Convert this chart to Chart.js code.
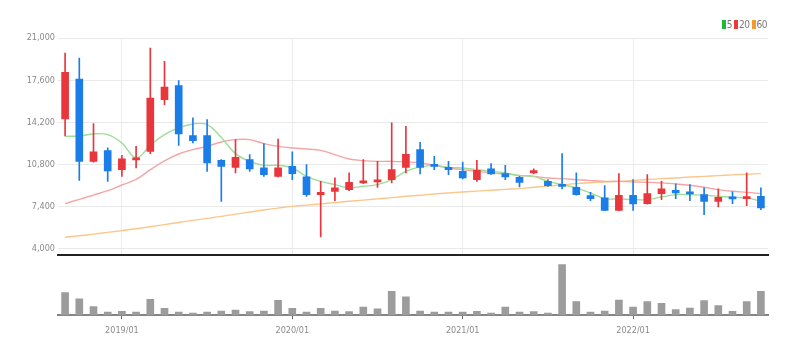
<!DOCTYPE html>
<html>
<head>
<meta charset="utf-8">
<script src="https://cdn.jsdelivr.net/npm/chart.js@4.4.1/dist/chart.umd.min.js"></script>
<style>
  html, body { margin: 0; padding: 0; background: #fff; }
  #wrap { position: relative; width: 803px; height: 355px; }
  #price-box { position: absolute; left: 0; top: 0; width: 803px; height: 263px; }
  #volume-box { position: absolute; left: 0; top: 256px; width: 803px; height: 99px; }
  #legend {
    position: absolute; right: 36px; top: 19px;
    font: 10px 'Liberation Sans Narrow', 'DejaVu Sans Condensed', Roboto, sans-serif;
    color: #777; line-height: 11px; white-space: nowrap; letter-spacing: -0.5px;
  }
  #legend span.item { margin-left: 2px; }
  #legend i { display: inline-block; width: 4px; height: 9px; margin-right: 1px; vertical-align: -1px; }
</style>
</head>
<body>
<div id="wrap">
  <div id="price-box"><canvas id="price-chart"></canvas></div>
  <div id="volume-box"><canvas id="volume-chart"></canvas></div>
  <div id="legend"></div>
</div>
<script>
// Monthly candles, 2018/09 - 2022/10
const months = [
  '2018/09', '2018/10', '2018/11', '2018/12',
  '2019/01', '2019/02', '2019/03', '2019/04', '2019/05', '2019/06',
  '2019/07', '2019/08', '2019/09', '2019/10', '2019/11', '2019/12',
  '2020/01', '2020/02', '2020/03', '2020/04', '2020/05', '2020/06',
  '2020/07', '2020/08', '2020/09', '2020/10', '2020/11', '2020/12',
  '2021/01', '2021/02', '2021/03', '2021/04', '2021/05', '2021/06',
  '2021/07', '2021/08', '2021/09', '2021/10', '2021/11', '2021/12',
  '2022/01', '2022/02', '2022/03', '2022/04', '2022/05', '2022/06',
  '2022/07', '2022/08', '2022/09', '2022/10'
];

const opens = [
  14474, 17697, 11058, 11920, 10389, 11170, 11864, 16029, 17157, 13128,
  13128, 11138, 10575, 11195, 10526, 9849, 10655, 9801, 8375, 8641,
  8777, 9318, 9398, 9583, 10575, 12000, 10792, 10575, 10252, 9583,
  10446, 10067, 9769, 10124, 9446, 9180, 8964, 8294, 8109, 7110,
  8319, 7648, 8455, 8721, 8592, 8375, 7835, 8190, 8052, 8238
];
const highs = [
  19791, 19389, 14095, 12137, 11541, 12266, 20194, 19115, 17560, 14555,
  14417, 11195, 12806, 11598, 12484, 12862, 11815, 10792, 9446, 9720,
  10124, 11195, 11058, 14152, 13878, 12589, 11461, 11058, 11008, 11138,
  10872, 10735, 9850, 10450, 9583, 11678, 10124, 8560, 9100, 10067,
  9583, 9986, 9446, 9237, 9180, 8915, 8834, 8592, 10124, 8915
];
const lows = [
  13100, 9527, 11000, 9446, 9849, 10526, 11678, 15626, 12347, 12540,
  10252, 7835, 10124, 10252, 9849, 9800, 9583, 8238, 4967, 7891,
  8700, 9250, 8964, 9318, 10124, 10043, 10389, 9986, 9650, 9446,
  10000, 9583, 9000, 10050, 9044, 8834, 8330, 7891, 7080, 7080,
  7110, 7600, 7972, 8052, 7891, 6763, 7384, 7648, 7489, 7166
];
const closes = [
  18229, 11058, 11815, 10284, 11251, 11300, 16166, 17052, 13265, 12725,
  10929, 10655, 11380, 10446, 9986, 10526, 10067, 8375, 8560, 8915,
  9366, 9446, 9527, 10389, 11622, 10575, 10655, 10389, 9720, 10333,
  10043, 9801, 9366, 10309, 9100, 9044, 8375, 8052, 7110, 8319,
  7625, 8455, 8834, 8512, 8431, 7835, 8158, 8028, 8130, 7303
];

// Moving averages
const ma5 = [
  13072, 13100, 13265, 13209, 12540, 11332, 12350, 13209, 13749, 14072,
  14015, 12975, 11678, 11058, 10735, 10735, 10526, 9849, 9446, 9180,
  8915, 9044, 9180, 9583, 10252, 10607, 10735, 10575, 10526, 10389,
  10252, 10124, 9906, 9849, 9446, 9180, 8915, 8512, 8052, 8028,
  7972, 7972, 8190, 8375, 8375, 8319, 8238, 8158, 8109, 7835
];
const ma20 = [
  7648, 7990, 8340, 8690, 9150, 9600, 10389, 11100, 11650, 12000,
  12266, 12621, 12806, 12806, 12484, 12266, 12137, 12057, 11944, 11598,
  11251, 11114, 11058, 11058, 11008, 10929, 10735, 10526, 10389, 10252,
  10124, 10043, 9930, 9849, 9720, 9664, 9583, 9503, 9446, 9446,
  9398, 9366, 9318, 9237, 9125, 8964, 8777, 8641, 8560, 8455
];
const ma60 = [
  4935, 5060, 5190, 5330, 5474, 5620, 5790, 5960, 6130, 6300,
  6460, 6620, 6800, 6970, 7140, 7290, 7430, 7530, 7630, 7730,
  7835, 7930, 8030, 8130, 8238, 8330, 8420, 8510, 8592, 8660,
  8730, 8800, 8858, 8964, 9060, 9160, 9262, 9330, 9390, 9446,
  9520, 9590, 9664, 9720, 9790, 9849, 9910, 9970, 10020, 10067
];

const volumes = [
  2330, 1700, 900, 330, 400, 330, 1630, 700, 330, 230,
  330, 430, 530, 370, 430, 1530, 700, 330, 700, 430,
  370, 830, 670, 2470, 1900, 430, 330, 330, 330, 400,
  230, 830, 330, 370, 230, 5230, 1400, 330, 430, 1570,
  830, 1400, 1230, 570, 730, 1500, 1000, 400, 1400, 2470
];

const priceTicks = [4000, 7400, 10800, 14200, 17600, 21000];
const maNames = ['5', '20', '60'];

const UP = '#e8363c';
const DOWN = '#1b7de8';
const candleColors = opens.map((o, i) => closes[i] >= o ? UP : DOWN);
const lineColors = ['#9edd98', '#f5a5a5', '#fbc68e'];
const legendColors = ['#1fb83a', '#ea3a3a', '#f59a30'];

Chart.defaults.font.family = "'Liberation Sans Narrow', 'DejaVu Sans Condensed', Roboto, sans-serif";
Chart.defaults.font.size = 9;
Chart.defaults.color = '#8a8a8a';
Chart.defaults.animation = false;

const isYear = (i) => months[i] && months[i].endsWith('/01');

// Price chart (candles + moving averages)
const priceChart = new Chart(document.getElementById('price-chart'), {
  type: 'bar',
  data: {
    labels: months,
    datasets: [
      { type: 'line', label: maNames[0], data: ma5, borderColor: lineColors[0], borderWidth: 1.4, pointRadius: 0, tension: 0.4, order: 3 },
      { type: 'line', label: maNames[1], data: ma20, borderColor: lineColors[1], borderWidth: 1.4, pointRadius: 0, tension: 0.4, order: 3 },
      { type: 'line', label: maNames[2], data: ma60, borderColor: lineColors[2], borderWidth: 1.4, pointRadius: 0, tension: 0.4, order: 3 },
      {
        label: 'wick',
        data: months.map((m, i) => [lows[i], highs[i]]),
        backgroundColor: candleColors,
        barThickness: 1,
        grouped: false,
        order: 2
      },
      {
        label: 'body',
        data: months.map((m, i) => [opens[i], closes[i]]),
        backgroundColor: candleColors,
        barThickness: 7,
        minBarLength: 2,
        grouped: false,
        order: 1
      }
    ]
  },
  options: {
    responsive: true,
    maintainAspectRatio: false,
    layout: { padding: { left: 0, right: 35, top: 38, bottom: 0 } },
    plugins: {
      tooltip: { enabled: false },
      legend: { display: false }
    },
    scales: {
      x: {
        offset: true,
        ticks: { display: false },
        grid: {
          offset: false,
          drawTicks: false,
          color: (ctx) => isYear(ctx.index) ? '#ececec' : 'rgba(0,0,0,0)'
        },
        border: { color: '#222', width: 2 }
      },
      y: {
        min: 3540,
        max: 21000,
        afterBuildTicks: (scale) => { scale.ticks = priceTicks.map(v => ({ value: v })); },
        afterFit: (scale) => { scale.width = 58; },
        ticks: {
          padding: 3,
          callback: (v) => v.toLocaleString('en-US')
        },
        grid: { color: '#e9e9e9', drawTicks: false },
        border: { display: false }
      }
    }
  }
});

// Legend for the moving averages
document.getElementById('legend').innerHTML = priceChart.data.datasets.slice(0, 3)
  .map((ds, i) => `<span class="item"><i style="background:${legendColors[i]}"></i>${ds.label}</span>`)
  .join('');

// Volume chart
new Chart(document.getElementById('volume-chart'), {
  type: 'bar',
  data: {
    labels: months,
    datasets: [{
      label: 'volume',
      data: volumes,
      backgroundColor: '#9c9c9c',
      barThickness: 7
    }]
  },
  options: {
    responsive: true,
    maintainAspectRatio: false,
    layout: { padding: { left: 58, right: 35, top: 5, bottom: 13 } },
    plugins: { legend: { display: false }, tooltip: { enabled: false } },
    scales: {
      x: {
        offset: true,
        ticks: {
          autoSkip: false,
          maxRotation: 0,
          padding: 6,
          callback: (v, i) => isYear(i) ? months[i] : ''
        },
        grid: {
          offset: false,
          drawOnChartArea: false,
          tickLength: 4,
          color: (ctx) => isYear(ctx.index) ? '#666' : 'rgba(0,0,0,0)'
        },
        border: { color: '#858585', width: 2 }
      },
      y: {
        display: false,
        min: 0,
        max: 5600
      }
    }
  }
});
</script>
</body>
</html>
